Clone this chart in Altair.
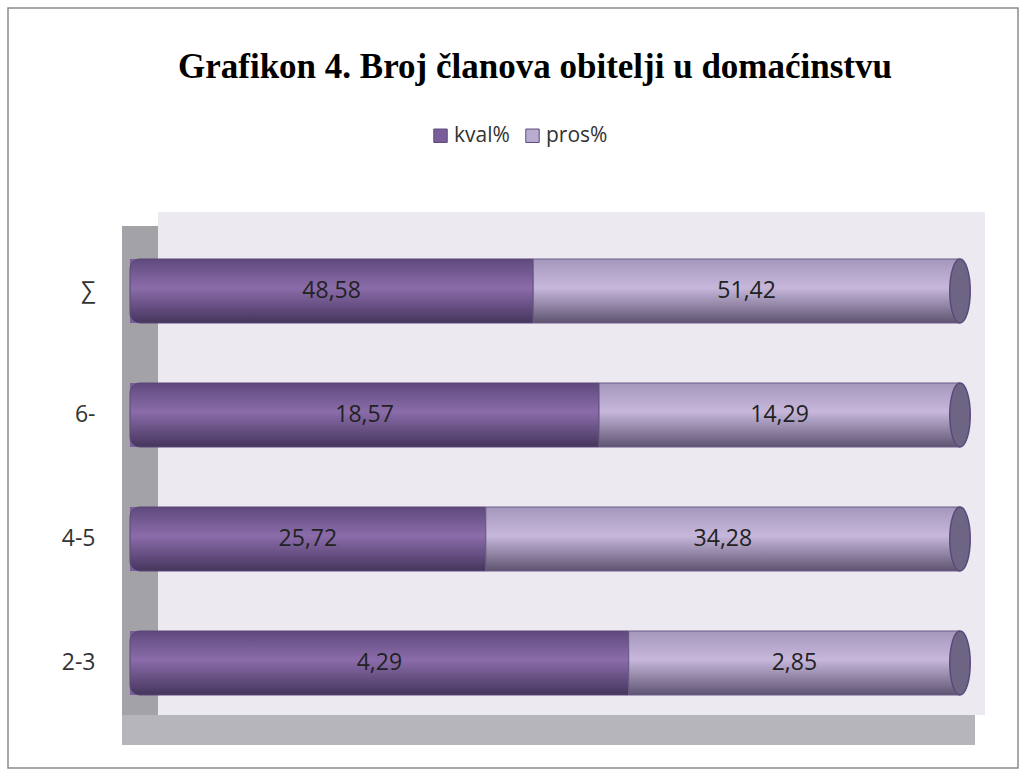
import altair as alt
import pandas as pd

categories = ["∑", "6-", "4-5", "2-3"]
series_names = ["kval%", "pros%"]
kval = [48.58, 18.57, 25.72, 4.29]
pros = [51.42, 14.29, 34.28, 2.85]

rows = []
for i, c in enumerate(categories):
    for j, (s, v) in enumerate(zip(series_names, [kval[i], pros[i]])):
        rows.append({"cat": c, "series": s, "value": v, "ord": j,
                     "label": f"{v:.2f}".replace(".", ",")})
df = pd.DataFrame(rows)

W, H = 830, 496
PL, PT = 130, 229

base = alt.Chart(df).transform_joinaggregate(
    total="sum(value)", groupby=["cat"]
).transform_window(
    cum="sum(value)", sort=[alt.SortField("ord")], groupby=["cat"],
    frame=[None, 0]
).transform_calculate(
    x0="(datum.cum - datum.value) / datum.total",
    x1="datum.cum / datum.total",
    mid="(datum.cum - datum.value / 2) / datum.total",
)

xs = alt.Scale(domain=[0, 1], nice=False, zero=False)
ys = alt.Scale(domain=categories, paddingInner=0.484, paddingOuter=0.242)
yenc = alt.Y("cat:N", scale=ys, sort=categories,
             axis=alt.Axis(title=None, domain=False, ticks=False, grid=False,
                           labelPadding=35, labelFontSize=23, labelFont="Open Sans",
                           labelColor="#333333", zindex=2))

one = alt.Chart(pd.DataFrame({"a": [0]}))

border = one.mark_rect(fill="white", stroke="#8c8c8c", strokeWidth=1.5).encode(
    x=alt.value(8 - PL), x2=alt.value(1018 - PL), y=alt.value(8 - PT), y2=alt.value(768 - PT))
wall = one.mark_rect(fill="#ECE9F1").encode(
    x=alt.value(158 - PL), x2=alt.value(985 - PL), y=alt.value(212 - PT), y2=alt.value(715 - PT))
leftwall = one.mark_rect(fill="#A3A2A7").encode(
    x=alt.value(122 - PL), x2=alt.value(158 - PL), y=alt.value(226 - PT), y2=alt.value(745 - PT))
floor = one.mark_rect(fill="#B6B5BA").encode(
    x=alt.value(122 - PL), x2=alt.value(975 - PL), y=alt.value(715 - PT), y2=alt.value(745 - PT))

flat = base.mark_bar().encode(
    x=alt.X("x0:Q", scale=xs, axis=None), x2="x1:Q", y=yenc,
    color=alt.Color("series:N", scale=alt.Scale(domain=series_names, range=["#7A5E9B", "#BAABD0"]),
                    legend=alt.Legend(title=None, orient="none", direction="horizontal",
                                      legendX=430 - PL, legendY=125 - PT,
                                      symbolType="square", symbolSize=180,
                                      symbolStrokeColor="#5A4A78", symbolStrokeWidth=1,
                                      labelFontSize=21, labelFont="Open Sans",
                                      labelColor="#333333", columnPadding=12, labelOffset=3)),
)

grad_k = {"gradient": "linear", "x1": 0, "x2": 0, "y1": 0, "y2": 1,
          "stops": [{"offset": 0, "color": "#5F4A7C"}, {"offset": 0.45, "color": "#8A6CAA"},
                    {"offset": 1, "color": "#45355C"}]}
grad_p = {"gradient": "linear", "x1": 0, "x2": 0, "y1": 0, "y2": 1,
          "stops": [{"offset": 0, "color": "#A597BC"}, {"offset": 0.45, "color": "#C6B7DB"},
                    {"offset": 1, "color": "#5E5470"}]}

bar_k = base.transform_filter("datum.ord == 0").mark_bar(
    fill=grad_k, stroke="#5A4678", strokeWidth=1,
    cornerRadiusTopLeft=10, cornerRadiusBottomLeft=10).encode(
    x=alt.X("x0:Q", scale=xs, axis=None), x2="x1:Q", y=yenc)
bar_p = base.transform_filter("datum.ord == 1").mark_bar(
    fill=grad_p, stroke="#6A5A88", strokeWidth=1).encode(
    x=alt.X("x0:Q", scale=xs, axis=None), x2="x1:Q", y=yenc)

cap = base.transform_filter("datum.ord == 1").mark_point(
    shape="M0,-1A0.32,1,0,1,1,0,1A0.32,1,0,1,1,0,-1Z", size=4096, filled=True,
    fill="#6E6483", stroke="#5A4A7C", strokeWidth=1.5, opacity=1).encode(
    x=alt.X("x1:Q", scale=xs, axis=None), y=yenc)

text = base.mark_text(fontSize=23, font="Open Sans", color="#222222").encode(
    x=alt.X("mid:Q", scale=xs, axis=None), y=yenc, text="label:N")

chart = alt.layer(border, wall, leftwall, floor, flat, bar_k, bar_p, cap, text).properties(
    width=W, height=H,
    title=alt.TitleParams("Grafikon 4. Broj članova obitelji u domaćinstvu",
                          font="Liberation Serif", fontSize=35, fontWeight="bold",
                          color="black", anchor="middle", offset=-78, dx=-10),
    autosize=alt.AutoSizeParams(type="none"),
    padding={"left": PL, "top": PT, "right": 1026 - PL - W, "bottom": 775 - PT - H},
).configure_view(stroke=None).configure(background="white")

chart.save("out.html", embed_options={"renderer": "svg", "actions": False})
